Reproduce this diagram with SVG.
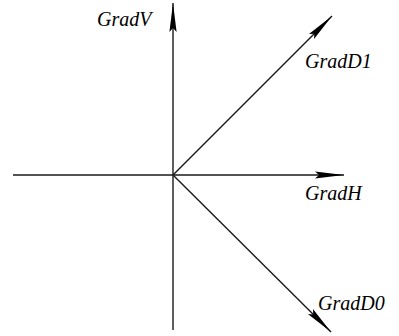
<svg xmlns="http://www.w3.org/2000/svg" width="399" height="336" viewBox="0 0 399 336">
<style>
.ax{stroke:#1a1a1a;stroke-width:1.4;fill:none}
.lbl{font-family:"Liberation Serif",serif;font-style:italic;font-size:20px;fill:#000}
</style>
<defs>
<marker id="arr" markerUnits="userSpaceOnUse" markerWidth="30" markerHeight="10" viewBox="0 -5 30 10" refX="29" refY="0" orient="auto">
<path d="M0,-3.6 L29,0 L0,3.6 L4,0 Z" fill="#000"/>
</marker>
</defs>
<rect width="399" height="336" fill="#fff"/>
<g id="connectors">
<line class="ax" x1="13" y1="175" x2="344" y2="175" marker-end="url(#arr)"/>
<line class="ax" x1="173" y1="330" x2="173" y2="3" marker-end="url(#arr)"/>
<line class="ax" x1="173" y1="175" x2="332" y2="16" marker-end="url(#arr)"/>
<line class="ax" x1="173" y1="175" x2="331" y2="332" marker-end="url(#arr)"/>
</g>
<g id="GradV"><text class="lbl" x="97" y="26">GradV</text></g>
<g id="GradD1"><text class="lbl" x="305" y="68">GradD1</text></g>
<g id="GradH"><text class="lbl" x="305" y="200">GradH</text></g>
<g id="GradD0"><text class="lbl" x="318" y="310">GradD0</text></g>
</svg>
